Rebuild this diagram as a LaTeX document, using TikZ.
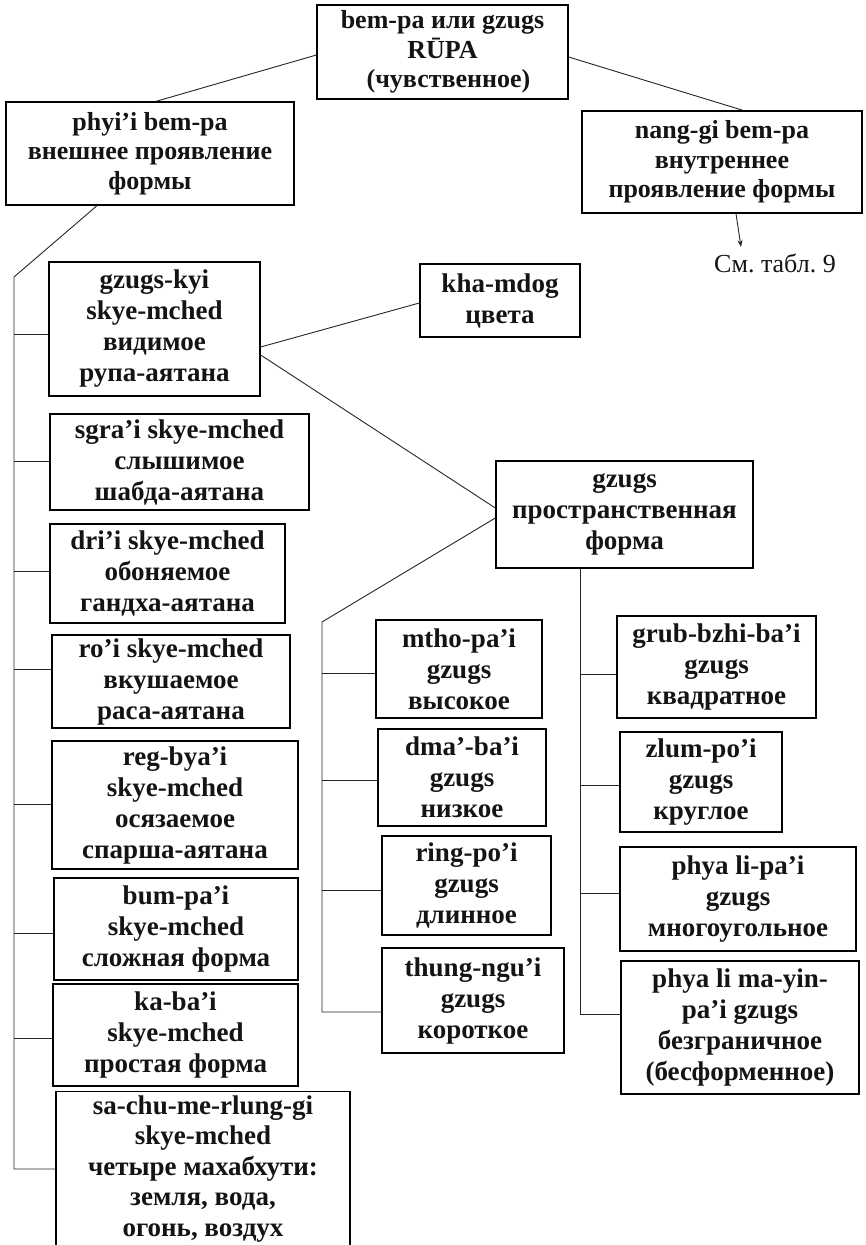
\documentclass[tikz,border=0pt]{standalone}
\usepackage{fontspec}
\setmainfont{Liberation Serif}
\usetikzlibrary{arrows.meta}
\frenchspacing
\begin{document}
\begin{tikzpicture}[x=1pt,y=-1pt,
  box/.style={draw=black, line width=1.3pt, inner sep=0pt, align=center,
    font=\fontsize{27}{31}\selectfont\bfseries, text=black!92},
  headbox/.style={box, font=\fontsize{26}{29.5}\selectfont\bfseries},
  sz/.style 2 args={minimum width=#1pt, minimum height=#2pt},
  link/.style={draw=black!85, line width=0.9pt},
  note/.style={inner sep=0pt, font=\fontsize{26}{29}\selectfont, text=black!92}
]
\useasboundingbox (0,0) rectangle (865,1245);
\clip (0,0) rectangle (865,1245);
\fill[white] (0,0) rectangle (865,1245);

% upper level
\node[headbox, sz={251}{94}]  (top)  at (442.5,52)  {bem-pa или gzugs\\RŪPA\\\hspace*{12pt}(чувственное)};
\node[headbox, sz={288}{103}] (phyi) at (150,153.5) {phyi’i bem-pa\\внешнее проявление\\формы};
\node[headbox, sz={280}{102}] (nang) at (722,162)   {nang-gi bem-pa\\внутреннее\\проявление формы};
\node[note] (ref) at (775,263) {См. табл. 9};
\coordinate (tip) at (741,247);

% the six fields and the elements
\node[box, sz={211}{134}] (kyi)   at (154.5,329)  {gzugs-kyi\\skye-mched\\видимое\\рупа-аятана};
\node[box, sz={259}{96}]  (sgra)  at (179.5,462)  {sgra’i skye-mched\\слышимое\\шабда-аятана};
\node[box, sz={235}{99}]  (dri)   at (167.5,573.5){dri’i skye-mched\\обоняемое\\гандха-аятана};
\node[box, sz={238}{93}]  (ro)    at (171,681.5)  {ro’i skye-mched\\вкушаемое\\раса-аятана};
\node[box, sz={246}{128}] (reg)   at (175,805)    {reg-bya’i\\skye-mched\\осязаемое\\спарша-аятана};
\node[box, sz={244}{102}] (bum)   at (176,929)    {bum-pa’i\\skye-mched\\сложная форма};
\node[box, sz={245}{102}] (ka)    at (175.5,1035) {ka-ba’i\\skye-mched\\простая форма};
\node[box, sz={294}{154}, anchor=north, font=\fontsize{27}{30.5}\selectfont\bfseries] (sachu) at (203,1091)
  {sa-chu-me-rlung-gi\\skye-mched\\четыре махабхути:\\земля, вода,\\огонь, воздух};

% colour and shape
\node[box, sz={160}{73}]  (kha)   at (500,300.5)  {kha-mdog\\цвета};
\node[box, sz={257}{107}] (gzugs) at (624.5,514.5){gzugs\\пространственная\\форма};

\node[box, sz={166}{98}]  (mtho)  at (459,669)    {mtho-pa’i\\gzugs\\высокое};
\node[box, sz={168}{97}]  (dma)   at (462,777.5)  {dma’-ba’i\\gzugs\\низкое};
\node[box, sz={169}{99}]  (ring)  at (466.5,885.5){ring-po’i\\gzugs\\длинное};
\node[box, sz={182}{105}] (thung) at (473,1000.5) {thung-ngu’i\\gzugs\\короткое};

\node[box, sz={199}{102}] (grub)  at (716.5,667)  {grub-bzhi-ba’i\\gzugs\\квадратное};
\node[box, sz={162}{100}] (zlum)  at (701,782)    {zlum-po’i\\gzugs\\круглое};
\node[box, sz={236}{104}] (phyali) at (738,899)   {phya li-pa’i\\gzugs\\многоугольное};
\node[box, sz={238}{133}] (mayin) at (740,1027.5) {phya li ma-yin-\\pa’i gzugs\\безграничное\\(бесформенное)};

% connectors of the upper level
\draw[link] (top.west |- 0,55) -- ([xshift=6pt]phyi.north);
\draw[link] (top.east |- 0,57) -- ([xshift=21pt]nang.north);
\draw[link, -{Stealth[length=7pt,width=5pt]}] ([xshift=14pt]nang.south) -- (tip);

% left trunk with its branches
\coordinate (L0) at (14,277);
\draw[link] ([xshift=-53pt]phyi.south) -- (L0) -- (14,1169) -- (sachu.west |- 0,1169);
\draw[link] (14,334)  -- (kyi.west |- 0,334);
\draw[link] (14,461)  -- (sgra.west |- 0,461);
\draw[link] (14,571)  -- (dri.west |- 0,571);
\draw[link] (14,669)  -- (ro.west |- 0,669);
\draw[link] (14,804)  -- (reg.west |- 0,804);
\draw[link] (14,933)  -- (bum.west |- 0,933);
\draw[link] (14,1038) -- (ka.west |- 0,1038);

% visible field: colour and shape
\draw[link] (kyi.east |- 0,347) -- (kha.west |- 0,303);
\draw[link] (kyi.east |- 0,355) -- (gzugs.west |- 0,508);

% middle trunk
\coordinate (M0) at (322,622);
\draw[link] (gzugs.west |- 0,518) -- (M0) -- (322,1012) -- (thung.west |- 0,1012);
\draw[link] (322,673) -- (mtho.west |- 0,673);
\draw[link] (322,780) -- (dma.west |- 0,780);
\draw[link] (322,890) -- (ring.west |- 0,890);

% right trunk
\draw[link] (gzugs.south -| 580,0) -- (580,1014) -- (mayin.west |- 0,1014);
\draw[link] (580,674) -- (grub.west |- 0,674);
\draw[link] (580,785) -- (zlum.west |- 0,785);
\draw[link] (580,893) -- (phyali.west |- 0,893);
\end{tikzpicture}
\end{document}
